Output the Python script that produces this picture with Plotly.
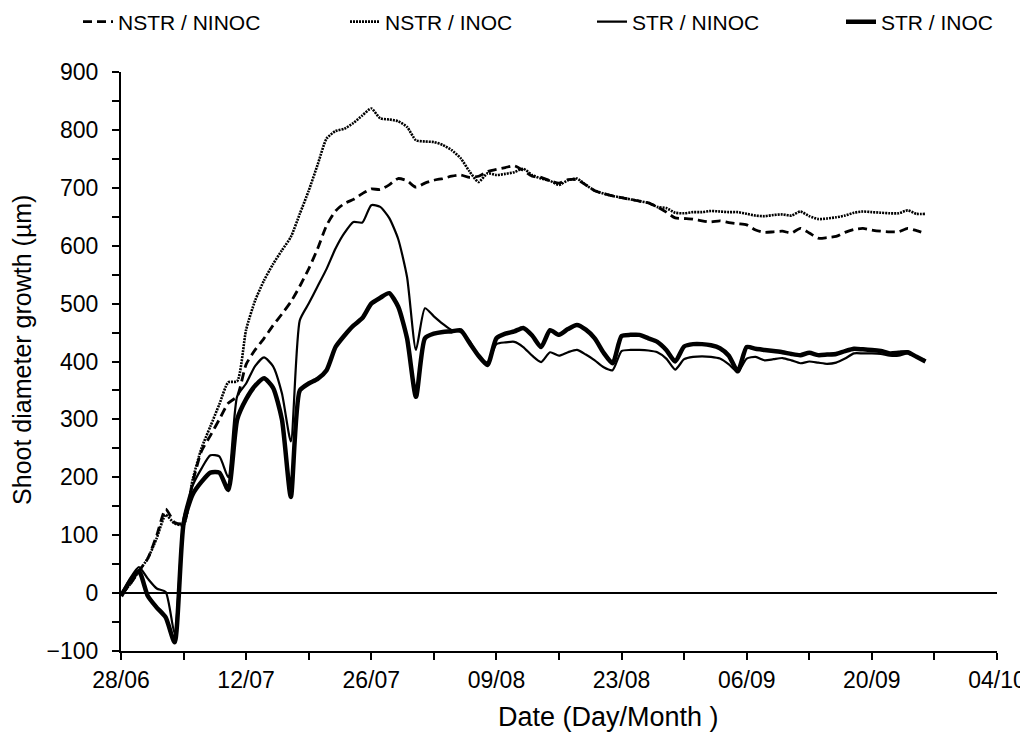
import pandas as pd
import plotly.graph_objects as go

start_date = "2009-06-28"
days = list(range(0, 91))

nstr_ninoc = [-3, 15, 38, 60, 100, 145, 122, 120, 190, 245, 272, 300, 328, 340, 395, 420, 440, 462, 482, 503,
              530, 560, 595, 635, 660, 673, 680, 690, 698, 697, 705, 716, 712, 701, 708, 713, 716, 720, 722, 718,
              720, 728, 732, 735, 738, 730, 720, 718, 712, 708, 714, 714, 705, 695, 690, 686, 683, 680, 677, 674,
              667, 658, 648, 647, 646, 643, 641, 643, 640, 638, 636, 627, 623, 624, 625, 622, 630, 622, 613, 614,
              616, 623, 628, 630, 627, 625, 624, 624, 630, 626, 621]
nstr_inoc = [-3, 15, 38, 60, 95, 135, 120, 118, 195, 250, 288, 326, 364, 366, 455, 505, 540, 568, 592, 615,
             655, 695, 740, 785, 798, 802, 812, 825, 837, 820, 818, 815, 805, 782, 780, 779, 774, 765, 751, 728,
             710, 725, 722, 724, 727, 733, 722, 716, 712, 705, 713, 716, 705, 695, 690, 686, 683, 680, 677, 674,
             667, 665, 657, 656, 658, 658, 660, 659, 658, 658, 655, 652, 651, 653, 654, 652, 659, 651, 646, 647,
             649, 652, 657, 659, 658, 657, 656, 656, 661, 655, 655]
str_ninoc = [-3, 25, 45, 25, 8, 2, -70, 130, 185, 215, 238, 236, 200, 340, 362, 392, 407, 392, 345, 262,
             471, 500, 530, 560, 595, 622, 641, 640, 670, 667, 648, 612, 546, 420, 492, 478, 465, 454, 451, 435,
             410, 398, 430, 433, 434, 425, 410, 399, 416, 410, 416, 420, 412, 402, 390, 385, 418, 420, 420, 419,
             416, 405, 386, 404, 408, 409, 408, 405, 395, 382, 405, 408, 402, 404, 406, 402, 397, 400, 398, 396,
             398, 405, 414, 414, 414, 413, 410, 410, 414, 408, 402]
str_inoc = [-5, 20, 38, -5, -25, -42, -85, 120, 170, 192, 208, 208, 178, 300, 335, 358, 371, 355, 300, 166,
            350, 362, 370, 385, 425, 445, 462, 475, 500, 510, 518, 495, 440, 339, 440, 448, 451, 452, 454, 432,
            410, 394, 440, 448, 452, 458, 445, 425, 454, 446, 456, 463, 455, 440, 415, 397, 444, 446, 446, 440,
            434, 420, 400, 426, 430, 430, 428, 423, 410, 383, 425, 422, 420, 418, 416, 413, 411, 415, 411, 412,
            413, 418, 422, 421, 420, 418, 414, 415, 416, 408, 400]

series_names = ["NSTR / NINOC", "NSTR / INOC", "STR / NINOC", "STR / INOC"]

dates = pd.to_datetime(start_date) + pd.to_timedelta(days, unit="D")

FONT = "Liberation Sans, Arial, sans-serif"
W, H = 1028, 733
ML, MR, MT, MB = 113, 39, 64, 90

fig = go.Figure()
styles = [
    dict(color="black", width=2.8, dash="9px,5px"),
    dict(color="black", width=2.6, dash="2px,1px"),
    dict(color="black", width=2.2),
    dict(color="black", width=4.5),
]
legend_ids = ["legend", "legend2", "legend3", "legend4"]
legend_left_px = [70, 337, 584, 833]
for name, vals, st, lid in zip(series_names, [nstr_ninoc, nstr_inoc, str_ninoc, str_inoc], styles, legend_ids):
    fig.add_trace(go.Scatter(x=dates, y=vals, mode="lines", name=name, legend=lid,
                             line=dict(shape="spline", smoothing=0.6, **st)))

plot_h = H - MT - MB
plot_w = W - ML - MR
legend_y = 1 + (MT - 14) / plot_h
layout_legends = {}
for lid, lx in zip(legend_ids, legend_left_px):
    layout_legends[lid] = dict(orientation="h", xref="container", x=lx / W, xanchor="left",
                               yref="paper", y=legend_y, yanchor="middle",
                               font=dict(size=21), itemwidth=30, bgcolor="rgba(0,0,0,0)")

fig.update_layout(
    width=W, height=H,
    margin=dict(l=ML, r=MR, t=MT, b=MB, autoexpand=False),
    paper_bgcolor="white", plot_bgcolor="white",
    font=dict(family=FONT, size=21, color="black"),
    showlegend=True,
    **layout_legends,
)

fig.update_xaxes(
    type="date", range=["2009-06-28", "2009-10-04"],
    tick0="2009-06-28", dtick=14 * 86400000, tickformat="%d/%m",
    ticks="outside", ticklen=7, tickwidth=2, tickcolor="black",
    minor=dict(dtick=7 * 86400000, ticks="outside", ticklen=7, tickwidth=2, tickcolor="black", showgrid=False),
    showline=True, linecolor="black", linewidth=2, showgrid=False, zeroline=False,
    tickfont=dict(size=23), automargin=False,
)
fig.update_yaxes(
    range=[-100, 900], dtick=100, tick0=0,
    ticks="outside", ticklen=7, tickwidth=2, tickcolor="black",
    minor=dict(dtick=50, ticks="outside", ticklen=7, tickwidth=2, tickcolor="black", showgrid=False),
    showline=True, linecolor="black", linewidth=2, showgrid=False,
    zeroline=True, zerolinecolor="black", zerolinewidth=1.5,
    tickfont=dict(size=23), ticklabelstandoff=9, automargin=False,
)
fig.add_annotation(text="Shoot diameter growth (µm)", xref="paper", yref="paper",
                   x=(14 - ML) / plot_w, y=0.52, xanchor="center", yanchor="middle",
                   textangle=-90, showarrow=False, font=dict(size=25))
fig.add_annotation(text="Date (Day/Month )", xref="paper", yref="paper", x=0.556, y=-0.114,
                   xanchor="center", yanchor="middle", showarrow=False, font=dict(size=27))

fig.write_html("out.html")
